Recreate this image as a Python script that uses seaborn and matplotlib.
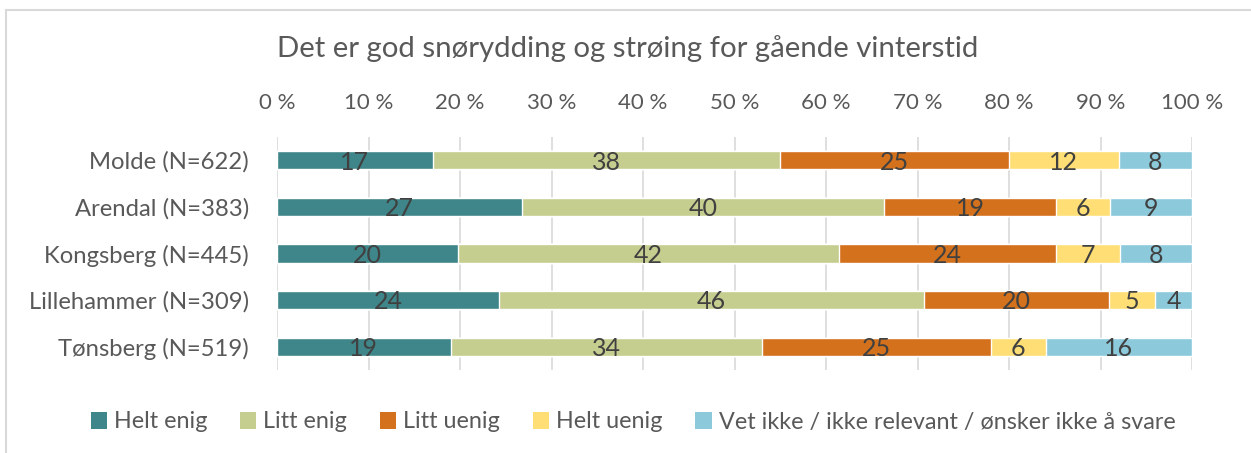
import numpy as np
import pandas as pd
import seaborn as sns
import matplotlib.pyplot as plt
from matplotlib.patches import Patch
from matplotlib.lines import Line2D

# Survey answers per municipality (rounded percentages)
cities = ["Molde (N=622)", "Arendal (N=383)", "Kongsberg (N=445)",
          "Lillehammer (N=309)", "Tønsberg (N=519)"]
answers = ["Helt enig", "Litt enig", "Litt uenig", "Helt uenig",
           "Vet ikke / ikke relevant / ønsker ikke å svare"]
helt_enig = [17, 27, 20, 24, 19]
litt_enig = [38, 40, 42, 46, 34]
litt_uenig = [25, 19, 24, 20, 25]
helt_uenig = [12, 6, 7, 5, 6]
vet_ikke = [8, 9, 8, 4, 16]
xticks = [0, 10, 20, 30, 40, 50, 60, 70, 80, 90, 100]

colors = ["#3F868A", "#C5CD8F", "#D4711C", "#FFDF75", "#8BC9DB"]
text_grey = "#595959"
label_grey = "#404040"

sns.set_theme(style="white")
plt.rcParams["font.family"] = ["Lato", "DejaVu Sans"]

series = [helt_enig, litt_enig, litt_uenig, helt_uenig, vet_ikke]
vals = np.array(series, dtype=float)          # shape (answers, cities)
shares = vals / vals.sum(axis=0) * 100         # 100 % stacked
cum = np.cumsum(shares, axis=0)

fig = plt.figure(figsize=(12.51, 4.53), dpi=100)
ax = fig.add_axes([277 / 1251, 1 - 370 / 453, 915 / 1251, 233 / 453])

# Draw cumulative bars from the right end backwards so each segment shows
for k in range(len(answers) - 1, -1, -1):
    df = pd.DataFrame({"city": cities, "cum": cum[k]})
    sns.barplot(data=df, x="cum", y="city", orient="h", color=colors[k],
                width=0.39, saturation=1, ax=ax, zorder=3)

# Value labels centred in each segment
for k in range(len(answers)):
    for i in range(len(cities)):
        start = cum[k][i] - shares[k][i]
        ax.text(start + shares[k][i] / 2, i + 0.04, f"{series[k][i]}",
                ha="center", va="center", fontsize=18, color=label_grey,
                zorder=5)

ax.set_xlim(0, 100)
ax.set_ylim(4.5, -0.5)
ax.set_xticks(xticks)
ax.set_xticklabels([f"{t} %" for t in xticks])
ax.xaxis.tick_top()
ax.tick_params(axis="x", length=0, pad=17, labelsize=16, colors=text_grey)
ax.tick_params(axis="y", length=0, pad=20, labelsize=17.2, colors=text_grey)
ax.set_xlabel("")
ax.set_ylabel("")
for sp in ax.spines.values():
    sp.set_visible(False)
ax.grid(False)
for t in xticks:
    ax.axvline(t, color="#D9D9D9", lw=1.2, zorder=1)

fig.text(628 / 1251, 1 - 49 / 453,
         "Det er god snørydding og strøing for gående vinterstid",
         ha="center", va="center", fontsize=21.2, color=text_grey)

handles = [Patch(facecolor=c, edgecolor="none") for c in colors]
fig.legend(handles, answers, loc="center", bbox_to_anchor=(633 / 1251, 1 - 422 / 453),
           ncol=5, frameon=False, fontsize=16.8, labelcolor=text_grey,
           handlelength=0.7, handleheight=0.7, handletextpad=0.3,
           columnspacing=1.4)

# Chart-area border
fig.add_artist(Line2D([5.5 / 1251, 5.5 / 1251], [0, 1 - 10 / 453],
                      transform=fig.transFigure, color="#D9D9D9", lw=1.5))
fig.add_artist(Line2D([5.5 / 1251, 1], [1 - 10 / 453, 1 - 10 / 453],
                      transform=fig.transFigure, color="#D9D9D9", lw=1.5))

fig.savefig("out.png", dpi=100, facecolor="white")
